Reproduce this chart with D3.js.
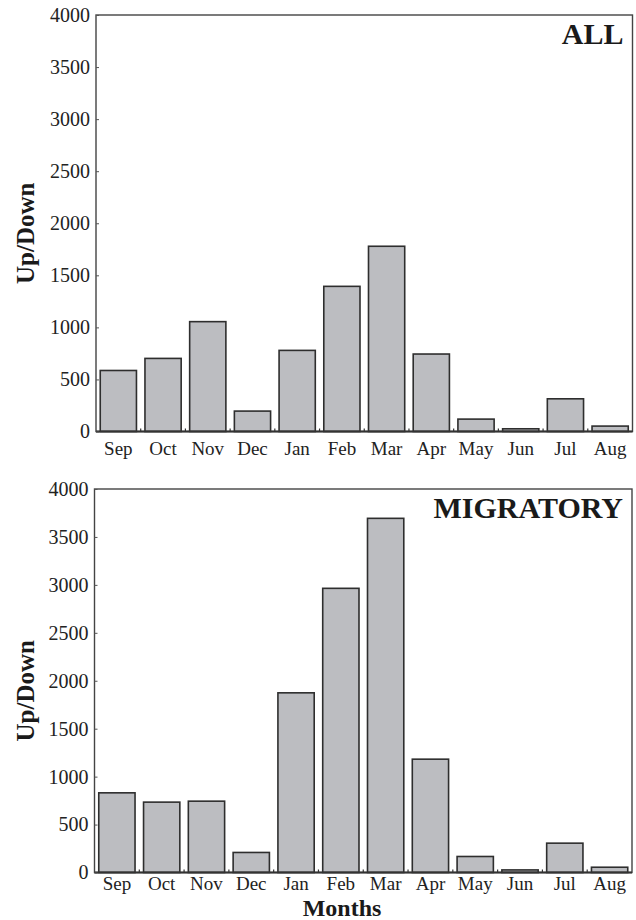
<!DOCTYPE html>
<meta charset="utf-8">
<style>
body { margin: 0; background: #fff; }
svg { display: block; }
.tick-label { font-family: "Liberation Serif", "DejaVu Serif", serif; font-size: 19px; fill: #222; }
.bold { font-family: "Liberation Serif", serif; font-weight: bold; fill: #1a1a1a; }
.bar { fill: #bcbdc1; stroke: #2e2e2e; stroke-width: 1.6px; }
.frame { fill: none; stroke: #444; stroke-width: 1.4px; }
</style>
<svg width="636" height="920"></svg>
<script src="https://cdn.jsdelivr.net/npm/d3@7"></script>
<script>

const months = ["Sep", "Oct", "Nov", "Dec", "Jan", "Feb", "Mar", "Apr", "May", "Jun", "Jul", "Aug"];
const allValues = [586, 702, 1055, 196, 779, 1394, 1779, 744, 119, 26, 314, 52];
const migratoryValues = [831, 734, 744, 209, 1874, 2964, 3694, 1182, 167, 27, 306, 55];
const yTicks = [0, 500, 1000, 1500, 2000, 2500, 3000, 3500, 4000];

const svg = d3.select("svg");

// one panel per series
const panels = [
  {title: "ALL", values: allValues, left: 96, right: 632.5, top: 15, bottom: 431.5, labelY: 455},
  {title: "MIGRATORY", values: migratoryValues, left: 94.5, right: 632, top: 489, bottom: 872.5, labelY: 890}
];

panels.forEach(drawPanel);

svg.append("text")
  .attr("class", "bold")
  .attr("x", 342)
  .attr("y", 916)
  .attr("text-anchor", "middle")
  .attr("font-size", "24px")
  .text("Months");

function drawPanel(p) {
  const x = d3.scaleBand()
    .domain(months)
    .range([p.left, p.right])
    .paddingInner(0.19)
    .paddingOuter(0.095);

  const y = d3.scaleLinear()
    .domain([0, 4000])
    .range([p.bottom, p.top]);

  const g = svg.append("g");

  g.selectAll(".bar")
    .data(p.values)
    .enter().append("rect")
    .attr("class", "bar")
    .attr("x", (d, i) => x(months[i]))
    .attr("y", d => y(d))
    .attr("width", x.bandwidth())
    .attr("height", d => y(0) - y(d));

  // frame
  g.append("rect")
    .attr("class", "frame")
    .attr("x", p.left)
    .attr("y", p.top)
    .attr("width", p.right - p.left)
    .attr("height", p.bottom - p.top);

  g.append("line")
    .attr("x1", p.left).attr("x2", p.right)
    .attr("y1", p.bottom).attr("y2", p.bottom)
    .attr("stroke", "#333").attr("stroke-width", 2);

  // small ticks between the bars
  const step = x.step();
  g.selectAll(".xt")
    .data(months.slice(1))
    .enter().append("line")
    .attr("x1", d => x(d) - step * 0.095)
    .attr("x2", d => x(d) - step * 0.095)
    .attr("y1", p.bottom)
    .attr("y2", p.bottom - 3)
    .attr("stroke", "#333")
    .attr("stroke-width", 1.2);

  // y axis
  const yAxis = d3.axisLeft(y).tickValues(yTicks).tickFormat(d3.format("d")).tickSize(-3).tickPadding(6);
  const ya = g.append("g")
    .attr("transform", "translate(" + p.left + ",0)")
    .call(yAxis)
    .attr("font-family", "Liberation Serif, serif")
    .attr("font-size", 20);
  ya.select(".domain").remove();
  ya.selectAll("line").attr("stroke", "#555");
  ya.selectAll("text")
    .attr("font-family", "Liberation Serif, serif")
    .attr("font-size", 20)
    .attr("fill", "#222");

  // month labels
  g.selectAll(".mlabel")
    .data(months)
    .enter().append("text")
    .attr("class", "tick-label")
    .attr("x", d => x(d) + x.bandwidth() / 2)
    .attr("y", p.labelY)
    .attr("text-anchor", "middle")
    .text(d => d);

  g.append("text")
    .attr("class", "bold")
    .attr("transform", "translate(34," + ((p.top + p.bottom) / 2 + 10) + ") rotate(-90)")
    .attr("text-anchor", "middle")
    .attr("font-size", "25px")
    .text("Up/Down");

  g.append("text")
    .attr("class", "bold")
    .attr("x", p.right - 9)
    .attr("y", p.top + 29)
    .attr("text-anchor", "end")
    .attr("font-size", "30px")
    .text(p.title);
}
</script>
